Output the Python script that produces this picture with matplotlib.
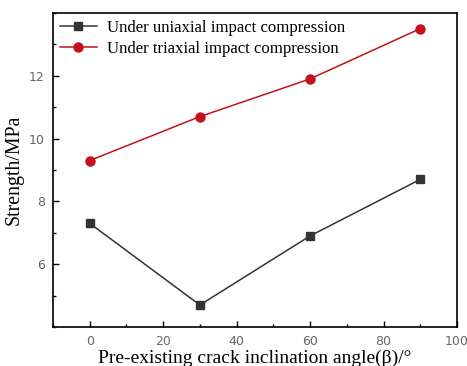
import matplotlib.pyplot as plt
from matplotlib.ticker import MultipleLocator

# Data
angles = [0, 30, 60, 90]
uniaxial = [7.3, 4.7, 6.9, 8.7]
triaxial = [9.3, 10.7, 11.9, 13.5]

fig = plt.figure(figsize=(4.67, 3.66), dpi=100)
ax = fig.add_axes([0.1135, 0.1066, 0.865, 0.858])

ax.plot(angles, uniaxial, color='#333333', marker='s', markersize=6, linewidth=1.1,
        label="Under uniaxial impact compression")
ax.plot(angles, triaxial, color='#c3121b', marker='o', markersize=6.5, linewidth=1.1,
        label="Under triaxial impact compression")

ax.set_xlim(-10, 100)
ax.set_ylim(4, 14)
ax.xaxis.set_major_locator(MultipleLocator(20))
ax.xaxis.set_minor_locator(MultipleLocator(10))
ax.yaxis.set_major_locator(MultipleLocator(2))
ax.yaxis.set_minor_locator(MultipleLocator(1))
ax.set_yticks([6, 8, 10, 12])

ax.tick_params(which='both', direction='in', top=False, right=False, width=1)
ax.tick_params(which='major', length=4, labelsize=9, labelcolor='#666666', pad=6)
ax.tick_params(which='minor', length=2.5)
for lbl in ax.get_xticklabels() + ax.get_yticklabels():
    lbl.set_family('DejaVu Sans')
for sp in ax.spines.values():
    sp.set_linewidth(1.2)

ax.set_xlabel("Pre-existing crack inclination angle(β)/°", family='Liberation Serif',
              fontsize=14, labelpad=1)
ax.set_ylabel("Strength/MPa", family='Liberation Serif', fontsize=14.3, labelpad=4)

ax.legend(loc='upper left', frameon=False, prop={'family': 'Liberation Serif', 'size': 12.1},
          handlelength=2.2, borderaxespad=0.2, labelspacing=0.3, borderpad=0.2, handletextpad=0.6)

fig.savefig("out.png", dpi=100)
